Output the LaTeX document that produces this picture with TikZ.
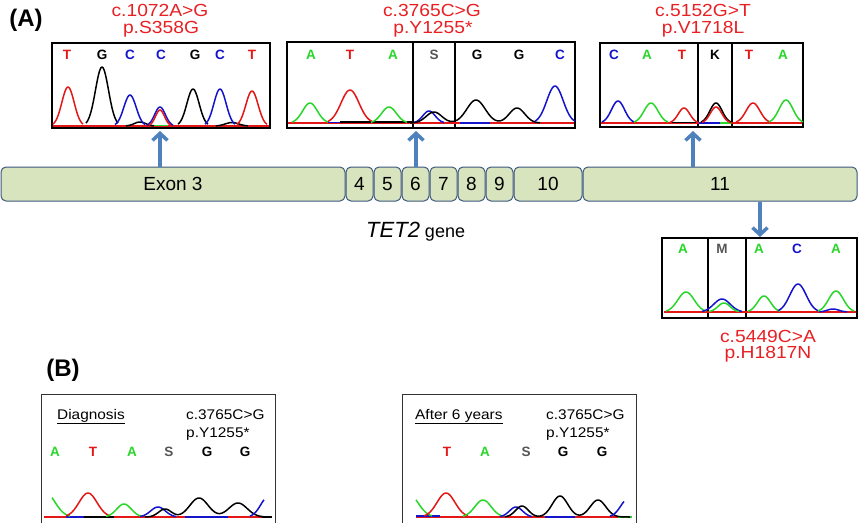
\documentclass[tikz,border=0pt]{standalone}
\usepackage{fontspec}
\setmainfont{Liberation Sans}
\newfontfamily\wide[FakeStretch=1.1]{Liberation Sans}
\usetikzlibrary{arrows.meta}
\definecolor{mred}{RGB}{232,32,36}
\definecolor{tgreen}{RGB}{40,215,40}
\definecolor{tblue}{RGB}{20,20,205}
\definecolor{tred}{RGB}{228,22,22}
\definecolor{sgray}{RGB}{85,85,85}
\definecolor{exfill}{RGB}{215,228,189}
\definecolor{exdraw}{RGB}{62,88,128}
\definecolor{arr}{RGB}{79,129,189}
\newcommand\chpk[5]{\draw[trace,#1] plot[domain=#2-#5:#2+#5,samples=31,smooth] (\x,{#4-(#4-#3)*exp(-3*((\x-#2)/#5)^2)});}
\tikzset{
  trace/.style={line width=1.5pt, line join=round},
  chbox/.style={draw=black, line width=1.3pt, inner sep=0pt},
  divl/.style={draw=black, line width=1.2pt},
  exon/.style={draw=exdraw, fill=exfill, rounded corners=5pt, line width=1pt,
    minimum height=34pt, inner sep=0pt, font=\fontsize{19}{19}\selectfont},
  nuc/.style={font=\bfseries\fontsize{13.5}{14}\selectfont, inner sep=0pt},
  mut/.style={text=mred, font=\wide\fontsize{17.5}{18}\selectfont, inner sep=0pt, anchor=base},
  arrowst/.style={draw=arr, line width=3.5pt, -{Straight Barb[length=7pt,width=15pt]}},
  pbox/.style={draw=black!80, line width=1.2pt, inner sep=0pt, anchor=north west},
  btext/.style={font=\wide\fontsize{14}{14}\selectfont, inner sep=0pt, anchor=base west},
  plabel/.style={font=\bfseries\fontsize{24}{24}\selectfont, inner sep=0pt},
}
\begin{document}
\begin{tikzpicture}[x=1pt,y=-1pt]
\path[use as bounding box, clip] (0,0) rectangle (859,522);
\fill[white] (0,0) rectangle (859,522);

% panel labels
\node[plabel] (pA) at (26,20) {(A)};
\node[plabel] (pB) at (63,370) {(B)};

% exon bar
\node[exon, minimum width=344pt] (ex3) at (173,184) {Exon 3};
\node[exon, minimum width=27pt] (ex4) at (359.5,184) {4};
\node[exon, minimum width=27pt] (ex5) at (387.5,184) {5};
\node[exon, minimum width=27pt] (ex6) at (415.5,184) {6};
\node[exon, minimum width=27pt] (ex7) at (443.5,184) {7};
\node[exon, minimum width=27pt] (ex8) at (471.5,184) {8};
\node[exon, minimum width=27pt] (ex9) at (499.5,184) {9};
\node[exon, minimum width=68pt] (ex10) at (548,184) {10};
\node[exon, minimum width=274pt] (ex11) at (720,184) {11};
\node[anchor=base west, inner sep=0pt] (tet) at (366,237)
  {\fontsize{22}{22}\selectfont\itshape TET2\fontsize{18}{18}\selectfont\upshape\ gene};

% chromatogram boxes
\node[chbox, minimum width=218pt, minimum height=85pt] (c1) at (161,85.5) {};
\node[chbox, minimum width=288pt, minimum height=86pt] (c2) at (431,85) {};
\node[chbox, minimum width=203pt, minimum height=84pt] (c3) at (701.5,85) {};
\node[chbox, minimum width=195pt, minimum height=80pt] (c4) at (759.5,278) {};
\coordinate (d1) at (413,0); \coordinate (d2) at (455,0);
\coordinate (d3) at (698,0); \coordinate (d4) at (732,0);
\coordinate (d5) at (708,0); \coordinate (d6) at (746,0);
\draw[divl] (c2.north -| d1) -- (c2.south -| d1);
\draw[divl] (c2.north -| d2) -- (c2.south -| d2);
\draw[divl] (c3.north -| d3) -- (c3.south -| d3);
\draw[divl] (c3.north -| d4) -- (c3.south -| d4);
\draw[divl] (c4.north -| d5) -- (c4.south -| d5);
\draw[divl] (c4.north -| d6) -- (c4.south -| d6);

% mutation labels
\node[mut] (m1a) at (160,16.5) {c.1072A>G};
\node[mut] (m1b) at (161,33) {p.S358G};
\node[mut] (m2a) at (432,16.5) {c.3765C>G};
\node[mut] (m2b) at (433,33) {p.Y1255*};
\node[mut] (m3a) at (703,16.5) {c.5152G>T};
\node[mut] (m3b) at (703,33) {p.V1718L};
\node[mut] (m4a) at (768,342) {c.5449C>A};
\node[mut] (m4b) at (768,358) {p.H1817N};

% arrows
\coordinate (t1) at (160,131); \coordinate (t2) at (416,131);
\coordinate (t3) at (693,131); \coordinate (t4) at (760,237);
\draw[arrowst] (t1 |- ex3.north) -- (t1);
\draw[arrowst] (t2 |- ex6.north) -- (t2);
\draw[arrowst] (t3 |- ex11.north) -- (t3);
\draw[arrowst] (t4 |- ex11.south) -- (t4);

% chromatogram 1 letters
\node[nuc,text=tred] (n1a) at (67,55) {T};
\node[nuc,text=black] (n1b) at (102,55) {G};
\node[nuc,text=tblue] (n1c) at (130,55) {C};
\node[nuc,text=tblue] (n1d) at (161,55) {C};
\node[nuc,text=black] (n1e) at (195,55) {G};
\node[nuc,text=tblue] (n1f) at (220,55) {C};
\node[nuc,text=tred] (n1g) at (252,55) {T};
% traces 1
\draw[trace,tred] (53,126) -- (269,126);
\draw[trace,tgreen] (150,125.5) -- (168,125.5);
\chpk{black}{140}{122}{126}{14}
\chpk{black}{232}{122.5}{126}{16}
\chpk{tred}{68}{87}{126}{15}
\chpk{black}{102}{67}{126}{16}
\chpk{tblue}{130}{95}{126}{15}
\chpk{tblue}{160}{107}{126}{13}
\chpk{tred}{160}{110}{126}{11}
\chpk{black}{193}{89}{126}{15}
\chpk{tblue}{220}{89}{126}{15}
\chpk{tred}{252}{91}{126}{15}

% chromatogram 2 letters
\node[nuc,text=tgreen] (n2a) at (311,55) {A};
\node[nuc,text=tred] (n2b) at (350,55) {T};
\node[nuc,text=tgreen] (n2c) at (393,55) {A};
\node[nuc,text=sgray] (n2d) at (434,55) {S};
\node[nuc,text=black] (n2e) at (477,55) {G};
\node[nuc,text=black] (n2f) at (519,55) {G};
\node[nuc,text=tblue] (n2g) at (560,55) {C};
% traces 2
\draw[trace,tred] (288,123) -- (574,123);
\draw[trace,tblue] (328,122.5) -- (345,122.5);
\draw[trace,black] (340,122) -- (412,122);
\draw[trace,tblue] (460,123) -- (490,123);
\chpk{tgreen}{310}{103}{123}{18}
\chpk{tred}{350}{90}{123}{22}
\chpk{tgreen}{389}{107}{123}{18}
\chpk{tblue}{429}{111}{123}{15}
\draw[trace,black] plot[domain=410:540,samples=90,smooth]
  (\x,{123-(11*exp(-((\x-434)/11)^2)+23*exp(-((\x-476)/13)^2)+15*exp(-((\x-517)/11)^2))});
\chpk{tblue}{555}{86}{123}{20}

% chromatogram 3 letters
\node[nuc,text=tblue] (n3a) at (614,55) {C};
\node[nuc,text=tgreen] (n3b) at (647,55) {A};
\node[nuc,text=tred] (n3c) at (682,55) {T};
\node[nuc,text=black] (n3d) at (715,55) {K};
\node[nuc,text=tred] (n3e) at (749,55) {T};
\node[nuc,text=tgreen] (n3f) at (783,55) {A};
% traces 3
\draw[trace,tred] (601,123) -- (802,123);
\draw[trace,black] (672,122.5) -- (696,122.5);
\draw[trace,tblue] (699,123) -- (720,123);
\draw[trace,tgreen] (720,123) -- (731,123);
\chpk{tblue}{618}{101}{123}{16}
\chpk{tgreen}{651}{103}{123}{17}
\chpk{tred}{684}{108}{123}{14}
\chpk{black}{716}{103}{123}{15}
\chpk{tred}{716}{107}{123}{14}
\chpk{tred}{753}{103}{123}{17}
\chpk{tgreen}{786}{100}{123}{17}

% chromatogram 4 letters
\node[nuc,text=tgreen] (n4a) at (683,249) {A};
\node[nuc,text=sgray] (n4b) at (722,249) {M};
\node[nuc,text=tgreen] (n4c) at (759,249) {A};
\node[nuc,text=tblue] (n4d) at (797,249) {C};
\node[nuc,text=tgreen] (n4e) at (836,249) {A};
% traces 4
\draw[trace,tred] (664,312) -- (856,312);
\chpk{tgreen}{686}{292}{312}{20}
\chpk{tblue}{722}{299}{312}{20}
\chpk{tgreen}{724}{303}{312}{15}
\chpk{tgreen}{764}{296}{312}{16}
\chpk{tblue}{798}{284}{312}{20}
\chpk{tblue}{833}{309}{312}{14}
\chpk{tgreen}{836}{291}{312}{18}

% panel B boxes
\node[pbox, minimum width=234pt, minimum height=150pt] (b1) at (41,394) {};
\node[pbox, minimum width=234pt, minimum height=150pt] (b2) at (402,394) {};

% panel B box 1
\node[btext] (b1t) at (57,419) {\underline{Diagnosis}};
\node[btext] (b1m) at (186,419) {c.3765C>G};
\node[btext] (b1p) at (186,437) {p.Y1255*};
\node[nuc,text=tgreen] (n5a) at (55,452) {A};
\node[nuc,text=tred] (n5b) at (93,452) {T};
\node[nuc,text=tgreen] (n5c) at (132,452) {A};
\node[nuc,text=sgray] (n5d) at (169,452) {S};
\node[nuc,text=black] (n5e) at (207,452) {G};
\node[nuc,text=black] (n5f) at (245,452) {G};
\draw[trace,tred] (44,517) -- (272,517);
\draw[trace,tblue] (66,517) -- (84,517);
\draw[trace,black] (84,517) -- (114,517);
\draw[trace,tblue] (185,517) -- (228,517);
\draw[trace,black] (262,517) -- (272,517);
\draw[trace,tgreen] plot[domain=52:70,samples=15,smooth] (\x,{517-25*exp(-3*((\x-45)/24)^2)});
\chpk{tred}{88}{493}{517}{22}
\chpk{tgreen}{124}{504}{517}{18}
\chpk{tblue}{158}{507}{517}{18}
\draw[trace,black] plot[domain=145:268,samples=90,smooth]
  (\x,{517-(8*exp(-((\x-165)/9)^2)+19*exp(-((\x-199)/13)^2)+14*exp(-((\x-238)/13)^2))});
\draw[trace,tblue] plot[domain=250:264,samples=12,smooth] (\x,{517-20*exp(-3*((\x-268)/18)^2)});

% panel B box 2
\node[btext] (b2t) at (415,419) {\underline{After 6 years}};
\node[btext] (b2m) at (546,419) {c.3765C>G};
\node[btext] (b2p) at (546,437) {p.Y1255*};
\node[nuc,text=tred] (n6a) at (447,452) {T};
\node[nuc,text=tgreen] (n6b) at (485,452) {A};
\node[nuc,text=sgray] (n6c) at (526,452) {S};
\node[nuc,text=black] (n6d) at (563,452) {G};
\node[nuc,text=black] (n6e) at (602,452) {G};
\draw[trace,tred] (416,517) -- (632,517);
\draw[trace,tblue] (416,516) -- (440,516);
\draw[trace,tblue] (545,517) -- (575,517);
\draw[trace,tgreen] (618,517) -- (632,517);
\draw[trace,tgreen] plot[domain=416:432,samples=12,smooth] (\x,{517-24*exp(-3*((\x-408)/24)^2)});
\chpk{tred}{446}{493}{517}{22}
\chpk{tgreen}{483}{500}{517}{20}
\chpk{tblue}{516}{507}{517}{16}
\draw[trace,black] plot[domain=505:630,samples=90,smooth]
  (\x,{517-(11*exp(-((\x-522)/9)^2)+21*exp(-((\x-560)/11)^2)+17*exp(-((\x-598)/11)^2))});
\draw[trace,tblue] plot[domain=610:624,samples=12,smooth] (\x,{517-18*exp(-3*((\x-628)/18)^2)});
\end{tikzpicture}
\end{document}
